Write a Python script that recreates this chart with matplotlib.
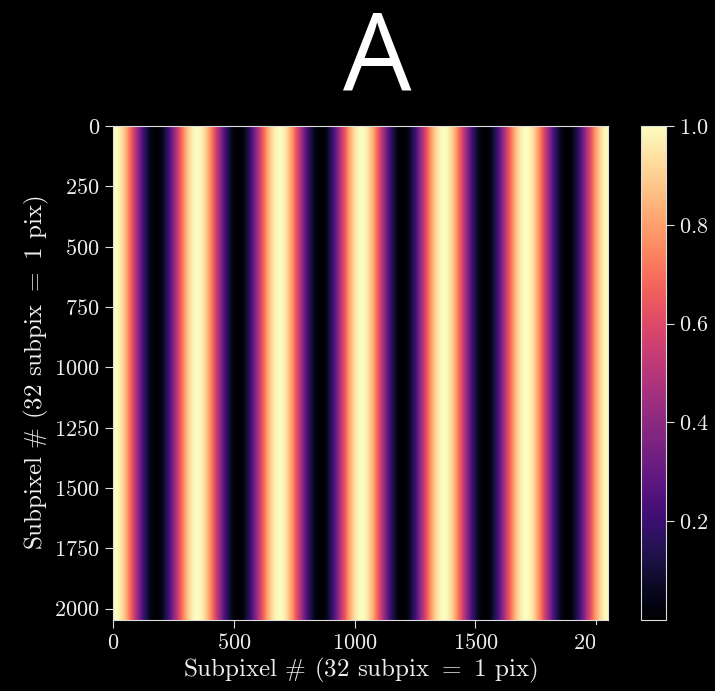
import numpy as np
import matplotlib
matplotlib.use('Agg')
import matplotlib.pyplot as plt
from matplotlib.patches import Rectangle

# fringe pattern parameters
N_SUBPIX = 2048          # image is N_SUBPIX x N_SUBPIX subpixels
FRINGE_PERIOD = 340.0    # subpixels per fringe
FRINGE_PHASE = 8.0       # position of first bright fringe
X_TICKS = [0, 500, 1000, 1500, 2000]
Y_TICKS = [0, 250, 500, 750, 1000, 1250, 1500, 1750, 2000]
CB_TICKS = [0.2, 0.4, 0.6, 0.8, 1.0]
TITLE = "A"
AXIS_LABEL = r"Subpixel $\#$ (32 subpix $=$ 1 pix)"

plt.style.use('dark_background')
plt.rcParams['font.family'] = 'serif'
plt.rcParams['font.serif'] = ['cmr10']
plt.rcParams['mathtext.fontset'] = 'cm'
plt.rcParams['axes.formatter.use_mathtext'] = True

x = np.arange(N_SUBPIX)
profile = 0.5 * (1 + np.cos(2 * np.pi * (x - FRINGE_PHASE) / FRINGE_PERIOD))
img = np.tile(profile, (N_SUBPIX, 1))

fig = plt.figure(figsize=(7.15, 6.91), dpi=100)
fig.patch.set_facecolor('black')
ax = fig.add_axes([0.158, 0.1027, 0.692, 0.715])
cax = fig.add_axes([0.8965, 0.1027, 0.035, 0.715])

im = ax.imshow(img, cmap='magma', aspect='auto', interpolation='nearest')
ax.set_xticks(X_TICKS)
ax.set_yticks(Y_TICKS)
ax.tick_params(labelsize=16, length=6, color='#dddddd', labelcolor='#eeeeee')
ax.set_xlabel(AXIS_LABEL, fontsize=18, color='#eeeeee', labelpad=2)
ax.set_ylabel(AXIS_LABEL, fontsize=18, color='#eeeeee', labelpad=2)
for s in ax.spines.values():
    s.set_color('#dddddd')

cb = fig.colorbar(im, cax=cax, ticks=CB_TICKS)
cb.ax.tick_params(labelsize=16, length=6, color='#dddddd', labelcolor='#eeeeee')
cb.outline.set_edgecolor('#dddddd')

fig.text(377 / 715, 1 - 91 / 691, TITLE, family='Open Sans', fontsize=78,
         color='white', ha='center', va='baseline')

# the last x tick label is partly hidden in the original
fig.patches.append(Rectangle((595 / 715, 36 / 691), 40 / 715, 30 / 691,
                             transform=fig.transFigure, facecolor='black',
                             edgecolor='none', zorder=10))

fig.savefig('out.png', dpi=100, facecolor='black')
